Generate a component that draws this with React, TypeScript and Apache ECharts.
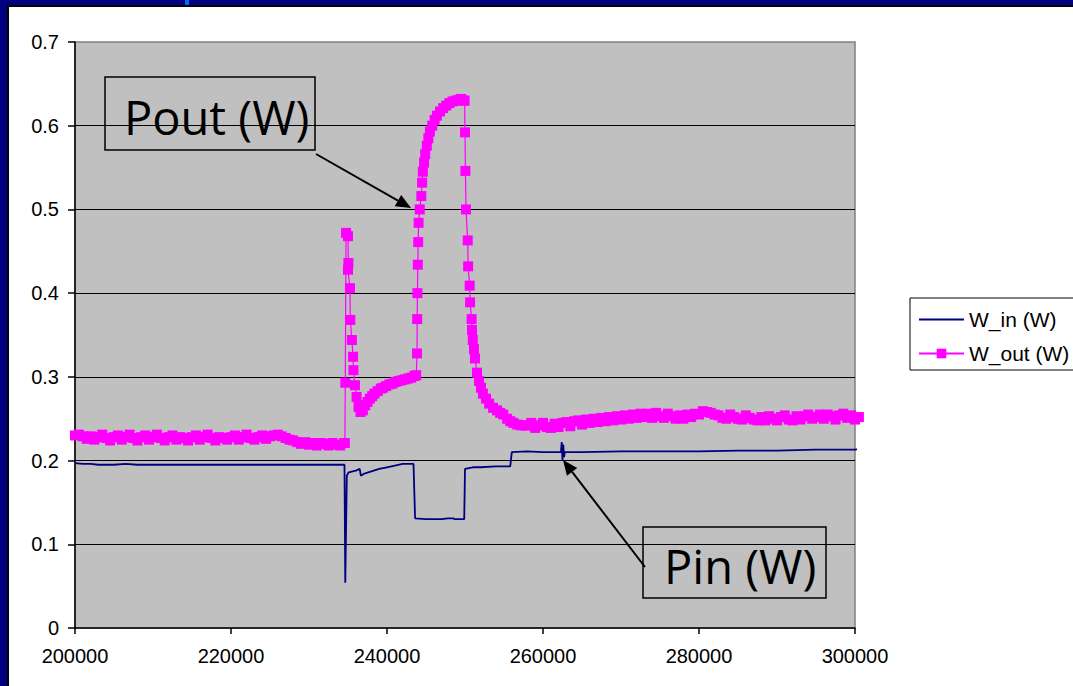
import React, { useEffect, useRef } from "react";
import * as echarts from "echarts";

const seriesNames = ["W_in (W)", "W_out (W)"];
const xMin = 200000;
const xMax = 300000;
const xInterval = 20000;
const yMin = 0;
const yMax = 0.7;
const yInterval = 0.1;

const wInPoints: [number, number][] = [
  [200000, 0.197], [201000, 0.196], [202000, 0.196], [203000, 0.195], [205000, 0.195],
  [206500, 0.196], [208000, 0.195], [212000, 0.195], [215000, 0.195], [220000, 0.195],
  [225000, 0.195], [230000, 0.195], [234550, 0.195],
  [234650, 0.054], [234850, 0.182], [235100, 0.186], [236000, 0.188], [236500, 0.190],
  [236650, 0.182], [237000, 0.184], [238000, 0.187], [239000, 0.190], [240000, 0.192],
  [241000, 0.194], [242000, 0.196], [243400, 0.196],
  [243600, 0.131], [245000, 0.130], [247000, 0.130], [247800, 0.131], [248500, 0.131],
  [248700, 0.130], [249900, 0.130],
  [250000, 0.190], [250500, 0.191], [251000, 0.192], [252000, 0.192], [254000, 0.193],
  [255800, 0.193], [256000, 0.210], [258000, 0.211], [260000, 0.210], [262300, 0.210],
  [262400, 0.222], [262500, 0.200], [262600, 0.219], [262700, 0.204], [262800, 0.210],
  [265000, 0.210], [270000, 0.211], [275000, 0.211], [280000, 0.211], [285000, 0.212],
  [290000, 0.212], [295000, 0.213], [300000, 0.213], [300700, 0.214],
];

const wOutBaseline: [number, number][] = [
  [200000, 0.230], [200500, 0.231], [201000, 0.229], [201500, 0.226], [202000, 0.229],
  [202500, 0.225], [203000, 0.228], [203500, 0.231], [204000, 0.227], [204500, 0.224],
  [205000, 0.228], [205500, 0.230], [206000, 0.225], [206500, 0.228], [207000, 0.231],
  [207500, 0.227], [208000, 0.224], [208500, 0.228], [209000, 0.230], [209500, 0.225],
  [210000, 0.228], [210500, 0.231], [211000, 0.227], [211500, 0.224], [212000, 0.228],
  [212500, 0.230], [213000, 0.225], [213500, 0.228], [214000, 0.227], [214500, 0.224],
  [215000, 0.228], [215500, 0.230], [216000, 0.225], [216500, 0.228], [217000, 0.231],
  [217500, 0.227], [218000, 0.224], [218500, 0.228], [219000, 0.227], [219500, 0.225],
  [220000, 0.228], [220500, 0.230], [221000, 0.225], [221500, 0.228], [222000, 0.231],
  [222500, 0.227], [223000, 0.225], [223500, 0.228], [224000, 0.230], [224500, 0.226],
  [225000, 0.229], [225500, 0.230], [226000, 0.231], [226500, 0.229], [227000, 0.227],
  [227500, 0.225], [228000, 0.224], [228500, 0.222], [229000, 0.220], [229500, 0.222],
  [230000, 0.219], [230500, 0.221], [231000, 0.218], [231500, 0.221], [232000, 0.220],
  [232500, 0.218], [233000, 0.221], [233500, 0.219], [234000, 0.218], [234500, 0.221],
];

const wOutSpike: [number, number][] = [
  [234600, 0.221], [234650, 0.293], [234750, 0.472], [235000, 0.468], [235050, 0.436],
  [235000, 0.428], [235250, 0.406], [235300, 0.368], [235500, 0.344], [235650, 0.324],
  [235700, 0.308], [235900, 0.290], [236100, 0.276], [236350, 0.264], [236600, 0.258],
  [236900, 0.260], [237200, 0.266], [237500, 0.270], [237800, 0.274], [238100, 0.277],
  [238400, 0.280], [238800, 0.283], [239200, 0.286],
];

const wOutRecovery: [number, number][] = [
  [239500, 0.287], [239900, 0.289], [240300, 0.291], [240700, 0.292], [241100, 0.294],
  [241500, 0.295], [241900, 0.296], [242300, 0.297], [242700, 0.298], [243100, 0.299],
  [243500, 0.301], [243750, 0.302],
];

const wOutRise: [number, number][] = [
  [243850, 0.328], [243870, 0.369], [243900, 0.400], [243950, 0.434], [244000, 0.461],
  [244050, 0.484], [244200, 0.500], [244400, 0.516], [244500, 0.532], [244600, 0.545],
  [244750, 0.556], [244900, 0.566], [245100, 0.576], [245300, 0.585], [245500, 0.593],
  [245800, 0.600], [246100, 0.607], [246400, 0.612], [246800, 0.617], [247200, 0.621],
  [247600, 0.624], [248000, 0.627], [248400, 0.629], [248800, 0.630], [249200, 0.631],
  [249500, 0.632], [249800, 0.630], [249950, 0.630],
];

const wOutFall: [number, number][] = [
  [250000, 0.592], [250050, 0.546], [250130, 0.500], [250350, 0.463], [250400, 0.432],
  [250600, 0.409], [250650, 0.389], [250850, 0.369], [250900, 0.356], [251000, 0.344],
];

const wOutDecay: [number, number][] = [
  [251150, 0.333], [251280, 0.322], [251540, 0.305], [251800, 0.295], [252050, 0.287],
  [252300, 0.280], [252700, 0.274], [253100, 0.268], [253600, 0.263], [254100, 0.260],
  [254500, 0.257], [254900, 0.255], [255400, 0.250], [255800, 0.247], [256200, 0.245],
  [256700, 0.243], [257200, 0.242], [257700, 0.242],
];

const wOutTail: [number, number][] = [
  [258000, 0.242], [258500, 0.245], [259000, 0.239], [259500, 0.242], [260000, 0.245],
  [260500, 0.240], [261000, 0.239], [261500, 0.244], [262000, 0.240], [262500, 0.245],
  [263000, 0.246], [263500, 0.241], [264000, 0.247], [264500, 0.248], [265000, 0.243],
  [265500, 0.249], [266000, 0.245], [266500, 0.250], [267000, 0.246], [267500, 0.251],
  [268000, 0.247], [268500, 0.252], [269000, 0.248], [269500, 0.253], [270000, 0.249],
  [270500, 0.254], [271000, 0.250], [271500, 0.255], [272000, 0.251], [272500, 0.256],
  [273000, 0.252], [273500, 0.256], [274000, 0.251], [274500, 0.257], [275000, 0.253],
  [275500, 0.251], [276000, 0.256], [276500, 0.253], [277000, 0.250], [277500, 0.254],
  [278000, 0.250], [278500, 0.255], [279000, 0.252], [279500, 0.256], [280000, 0.255],
  [280500, 0.259], [281000, 0.258], [281500, 0.257], [282000, 0.255], [282500, 0.254],
  [283000, 0.251], [283500, 0.250], [284000, 0.255], [284500, 0.252], [285000, 0.250],
  [285500, 0.249], [286000, 0.254], [286500, 0.251], [287000, 0.249], [287500, 0.248],
  [288000, 0.252], [288500, 0.248], [289000, 0.253], [289500, 0.250], [290000, 0.248],
  [290500, 0.252], [291000, 0.254], [291500, 0.249], [292000, 0.248], [292500, 0.253],
  [293000, 0.249], [293500, 0.253], [294000, 0.255], [294500, 0.250], [295000, 0.252],
  [295500, 0.255], [296000, 0.250], [296500, 0.255], [297000, 0.253], [297500, 0.249],
  [298000, 0.254], [298500, 0.256], [299000, 0.251], [299500, 0.254], [300000, 0.249],
  [300500, 0.252],
];

const wOutPoints: [number, number][] = [
  ...wOutBaseline,
  ...wOutSpike,
  ...wOutRecovery,
  ...wOutRise,
  ...wOutFall,
  ...wOutDecay,
  ...wOutTail,
];

const labelFont = "'Liberation Sans', Arial, sans-serif";
const calloutFont = "'Open Sans', 'DejaVu Sans', sans-serif";

function arrowHead(x1: number, y1: number, x2: number, y2: number, len: number, half: number) {
  const dx = x2 - x1;
  const dy = y2 - y1;
  const l = Math.sqrt(dx * dx + dy * dy);
  const ux = dx / l;
  const uy = dy / l;
  const bx = x2 - ux * len;
  const by = y2 - uy * len;
  return {
    base: [bx, by],
    pts: [
      [x2, y2],
      [bx - uy * half, by + ux * half],
      [bx + uy * half, by - ux * half],
    ],
  };
}

export default function App() {
  const ref = useRef<HTMLDivElement>(null);

  useEffect(() => {
    if (!ref.current) return;
    const chart = echarts.init(ref.current, null, { renderer: "svg" });

    const a1 = arrowHead(316, 154, 411, 208, 15, 6.5);
    const a2 = arrowHead(645, 567, 563, 460, 15, 6.5);

    chart.setOption({
      animation: false,
      grid: {
        left: 75,
        top: 42,
        right: 218,
        bottom: 58,
        show: true,
        backgroundColor: "#c0c0c0",
        borderColor: "#808080",
        borderWidth: 1.5,
        containLabel: false,
      },
      legend: {
        data: [
          { name: seriesNames[0], itemStyle: { opacity: 0 } },
          { name: seriesNames[1] },
        ],
        orient: "vertical",
        left: 910,
        top: 298,
        padding: [11, 40, 6, 8],
        itemGap: 13,
        itemWidth: 45,
        itemHeight: 12,
        borderColor: "#000",
        borderWidth: 1,
        backgroundColor: "#fff",
        textStyle: { fontFamily: labelFont, fontSize: 21, color: "#000" },
        selectedMode: false,
      },
      xAxis: {
        type: "value",
        min: xMin,
        max: xMax,
        interval: xInterval,
        axisLine: { show: true, lineStyle: { color: "#000", width: 1.5 } },
        axisTick: { show: true, length: 6, lineStyle: { color: "#000", width: 1.5 } },
        axisLabel: {
          color: "#000",
          fontFamily: labelFont,
          fontSize: 20,
          margin: 18,
          formatter: (v: number) => String(v),
        },
        splitLine: { show: false },
      },
      yAxis: {
        type: "value",
        min: yMin,
        max: yMax,
        interval: yInterval,
        axisLine: { show: true, lineStyle: { color: "#000", width: 1.5 } },
        axisTick: { show: true, length: 7, lineStyle: { color: "#000", width: 1.5 } },
        axisLabel: { color: "#000", fontFamily: labelFont, fontSize: 20, margin: 16 },
        splitLine: {
          show: true,
          showMinLine: false,
          showMaxLine: false,
          lineStyle: { color: "#000", width: 1.2 },
        },
      },
      series: [
        {
          name: seriesNames[0],
          type: "line",
          data: wInPoints,
          symbol: "none",
          clip: false,
          lineStyle: { color: "#000080", width: 1.8 },
          itemStyle: { color: "#000080" },
          z: 3,
        },
        {
          name: seriesNames[1],
          type: "line",
          data: wOutPoints,
          symbol: "rect",
          symbolSize: 10,
          showAllSymbol: true,
          clip: false,
          lineStyle: { color: "#ff00ff", width: 1.2 },
          itemStyle: { color: "#ff00ff", borderWidth: 0 },
          z: 4,
        },
      ],
      graphic: [
        {
          type: "rect",
          z: 100,
          shape: { x: 105, y: 77, width: 210, height: 73 },
          style: { fill: "none", stroke: "#000", lineWidth: 1.5 },
        },
        {
          type: "text",
          z: 101,
          x: 124,
          y: 117,
          style: {
            text: "Pout (W)",
            font: `47px ${calloutFont}`,
            fill: "#000",
            textAlign: "left",
            textVerticalAlign: "middle",
          },
        },
        {
          type: "line",
          z: 100,
          shape: { x1: 316, y1: 154, x2: a1.base[0], y2: a1.base[1] },
          style: { stroke: "#000", lineWidth: 2 },
        },
        {
          type: "polygon",
          z: 100,
          shape: { points: a1.pts },
          style: { fill: "#000" },
        },
        {
          type: "rect",
          z: 100,
          shape: { x: 643, y: 527, width: 183, height: 71 },
          style: { fill: "none", stroke: "#000", lineWidth: 1.5 },
        },
        {
          type: "text",
          z: 101,
          x: 664,
          y: 566,
          style: {
            text: "Pin (W)",
            font: `47px ${calloutFont}`,
            fill: "#000",
            textAlign: "left",
            textVerticalAlign: "middle",
          },
        },
        {
          type: "line",
          z: 100,
          shape: { x1: 645, y1: 567, x2: a2.base[0], y2: a2.base[1] },
          style: { stroke: "#000", lineWidth: 2 },
        },
        {
          type: "polygon",
          z: 100,
          shape: { points: a2.pts },
          style: { fill: "#000" },
        },
      ],
    });

    return () => chart.dispose();
  }, []);

  return (
    <div
      style={{
        position: "absolute",
        left: 0,
        top: 0,
        width: 1073,
        height: 686,
        background: "#000080",
        overflow: "hidden",
      }}
    >
      <div style={{ position: "absolute", left: 7, top: 5, right: 0, bottom: 0, background: "#000" }} />
      <div style={{ position: "absolute", left: 9, top: 7, right: 0, bottom: 0, background: "#fff" }} />
      <div style={{ position: "absolute", left: 185, top: 0, width: 4, height: 5, background: "#0a64ff" }} />
      <div ref={ref} style={{ position: "absolute", left: 0, top: 0, width: 1073, height: 686 }} />
    </div>
  );
}
